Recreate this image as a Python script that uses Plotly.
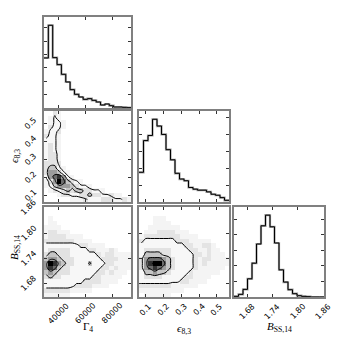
import numpy as np
import plotly.graph_objects as go

# marginal histograms (20 bins each, relative counts)
gamma_counts = [150, 248, 151, 130, 101, 78, 55, 41, 33, 26, 28, 23, 18, 9, 12, 7, 3, 3, 2, 1]
eps_counts = [88, 182, 197, 245, 225, 200, 155, 125, 85, 68, 63, 43, 38, 35, 35, 30, 23, 20, 13, 5]
b_counts = [2, 8, 23, 55, 102, 160, 215, 247, 212, 163, 82, 45, 22, 10, 4, 2, 1, 0, 0, 0]

gamma_range = [28700, 94300]
eps_range = [0.061, 0.568]
b_range = [1.649, 1.862]

gamma_ticks = [40000, 60000, 80000]
eps_ticks = [0.1, 0.2, 0.3, 0.4, 0.5]
b_ticks = [1.68, 1.74, 1.80, 1.86]
gamma_text = ["40000", "60000", "80000"]
eps_text = ["0.1", "0.2", "0.3", "0.4", "0.5"]
b_text = ["1.68", "1.74", "1.80", "1.86"]

# 2d density levels (rows top -> bottom, 20x20), 1-2 = scattered samples, 3+ = inside contours
gamma_eps = [
    "00210000000000000000",
    "01310000000000000000",
    "01331000000000000000",
    "02331000000000000000",
    "13320000000000000000",
    "23310000000000000000",
    "33310000000000000000",
    "34310000000000000000",
    "34310000000000000000",
    "34410000000000000000",
    "34410000000000000000",
    "44420000000000000000",
    "45531000000000000000",
    "46653100000000000000",
    "36786310000000000000",
    "14697543100000000000",
    "13566654331000000000",
    "01234545544331000000",
    "00012233445443321100",
    "00000011123334443321",
]
gamma_b = [
    "00000000000000000000",
    "00000000000000000000",
    "01000000000000000000",
    "01100000000000000000",
    "11110000000000000000",
    "12211100000000000000",
    "12222111100000000000",
    "22222221111000000000",
    "33333333221111000000",
    "34444433332211121000",
    "45544433333321221111",
    "56654443333332222111",
    "69865443335333221111",
    "68754433333332212111",
    "56544433333322121110",
    "45443333333221111100",
    "33333333322221111000",
    "33333332222111100000",
    "22222211111000000000",
    "11111100000000000000",
]
eps_b = [
    "00000000000000000000",
    "00000000000000000000",
    "00011100000000000000",
    "00011110000000000000",
    "00111111100000000000",
    "01112222111000000000",
    "12222222211110000000",
    "23333333222111110000",
    "33333333332211221000",
    "34444443333221121100",
    "35555443333322121110",
    "46777654333321221111",
    "46899754333321211111",
    "46787654333321111110",
    "35565543333211111100",
    "34444333332211110000",
    "33333333322111100000",
    "22222221111110000000",
    "11111111110000000000",
    "01111110000000000000",
]


def centers(rng):
    w = (rng[1] - rng[0]) / 20
    return [rng[0] + w * (k + 0.5) for k in range(20)]


def edges(rng):
    w = (rng[1] - rng[0]) / 20
    return [rng[0] + w * k for k in range(21)]


def grid(rows):
    return np.array([[int(c) for c in r] for r in rows[::-1]])


gray = [
    [0 / 9, "#ffffff"], [1 / 9, "#f4f4f4"], [2 / 9, "#e4e4e4"], [3 / 9, "#f7f7f7"],
    [4 / 9, "#e2e2e2"], [5 / 9, "#c4c4c4"], [6 / 9, "#9c9c9c"], [7 / 9, "#6c6c6c"],
    [8 / 9, "#333333"], [9 / 9, "#000000"],
]

fig = go.Figure()

# page body has an 8px margin, so the figure is 334 wide and everything is shifted by 8
OFF = 8.0
W = 334.0
cols = [(44, 131), (139, 229), (234, 324)]
rows_px = [(17, 108), (111, 202), (207, 297)]


def px_x(x):
    return (x - OFF) / W


def px_y(y):
    return 1 - (y - OFF) / W


def dom_x(c):
    return [px_x(cols[c][0]), px_x(cols[c][1])]


def dom_y(r):
    return [px_y(rows_px[r][1]), px_y(rows_px[r][0])]


def hist(counts, rng, n):
    x = edges(rng)
    y = list(counts) + [counts[-1]]
    for col, wd in (("#a0a0a0", 2.2), ("black", 1)):
        fig.add_trace(go.Scatter(x=x, y=y, mode="lines", line=dict(color=col, width=wd, shape="hv"),
                                 xaxis="x" + n, yaxis="y" + n, hoverinfo="skip"))


def dens(rows, xr, yr, n):
    z = grid(rows)
    fig.add_trace(go.Heatmap(x=centers(xr), y=centers(yr), z=z, zmin=0, zmax=9, colorscale=gray,
                             showscale=False, xaxis="x" + n, yaxis="y" + n))
    fig.add_trace(go.Contour(x=centers(xr), y=centers(yr), z=z, showscale=False,
                             contours=dict(coloring="none", start=2.5, end=8.5, size=2),
                             line=dict(color="black", width=1, smoothing=1),
                             xaxis="x" + n, yaxis="y" + n))


hist(gamma_counts, gamma_range, "")
dens(gamma_eps, gamma_range, eps_range, "2")
hist(eps_counts, eps_range, "3")
dens(gamma_b, gamma_range, b_range, "4")
dens(eps_b, eps_range, b_range, "5")
hist(b_counts, b_range, "6")

base = dict(showline=True, linecolor="#808080", linewidth=1.6, mirror="allticks", ticks="inside",
            ticklen=3, tickwidth=1, tickcolor="#333", showgrid=False, zeroline=False, automargin=False,
            showticklabels=False)


def ax(rng, dom, ticks=None, dtick=None):
    a = dict(base, range=rng, domain=dom)
    if ticks is not None:
        a["tickvals"] = ticks
    else:
        a["dtick"] = dtick
    return a


fig.update_layout(
    width=334, height=334, margin=dict(l=0, r=0, t=0, b=0), showlegend=False,
    paper_bgcolor="white", plot_bgcolor="white",
    xaxis=ax(gamma_range, dom_x(0), gamma_ticks),
    yaxis=ax([0, 1.1 * max(gamma_counts)], dom_y(0), dtick=40),
    xaxis2=ax(gamma_range, dom_x(0), gamma_ticks),
    yaxis2=ax(eps_range, dom_y(1), eps_ticks),
    xaxis3=ax(eps_range, dom_x(1), eps_ticks),
    yaxis3=ax([0, 1.1 * max(eps_counts)], dom_y(1), dtick=50),
    xaxis4=ax(gamma_range, dom_x(0), gamma_ticks),
    yaxis4=ax(b_range, dom_y(2), b_ticks),
    xaxis5=ax(eps_range, dom_x(1), eps_ticks),
    yaxis5=ax(b_range, dom_y(2), b_ticks),
    xaxis6=ax(b_range, dom_x(2), b_ticks),
    yaxis6=ax([0, 1.1 * max(b_counts)], dom_y(2), dtick=47),
)
for i in range(2, 7):
    fig.layout["xaxis%d" % i].anchor = "y%d" % i
    fig.layout["yaxis%d" % i].anchor = "x%d" % i

# rotated tick labels, centred on their ticks like matplotlib's
tf = dict(family="DejaVu Sans", size=8, color="black")
for ref, vals, txt in (("x4", gamma_ticks, gamma_text), ("x5", eps_ticks, eps_text), ("x6", b_ticks, b_text)):
    for v, t in zip(vals, txt):
        fig.add_annotation(text=t, x=v, xref=ref, y=px_y(299), yref="paper", showarrow=False,
                           font=tf, textangle=-45, xanchor="center", yanchor="top")
for ref, vals, txt in (("y2", eps_ticks, eps_text), ("y4", b_ticks, b_text)):
    for v, t in zip(vals, txt):
        fig.add_annotation(text=t, y=v, yref=ref, x=px_x(41), xref="paper", showarrow=False,
                           font=tf, textangle=-45, xanchor="right", yanchor="middle")

lab = dict(family="Liberation Serif", size=11, color="black")
notes = [
    ("Γ<sub>4</sub>", 87.5, 327, 0),
    ("<i>ϵ</i><sub>8,3</sub>", 184, 329, 0),
    ("<i>B</i><sub>SS,14</sub>", 279, 327, 0),
    ("<i>ϵ</i><sub>8,3</sub>", 15, 156, -90),
    ("<i>B</i><sub>SS,14</sub>", 15, 248, -90),
]
for t, x, y, a in notes:
    fig.add_annotation(text=t, x=px_x(x), y=px_y(y), xref="paper", yref="paper", showarrow=False,
                       font=lab, textangle=a, xanchor="center", yanchor="middle")

fig.write_html("out.html")
